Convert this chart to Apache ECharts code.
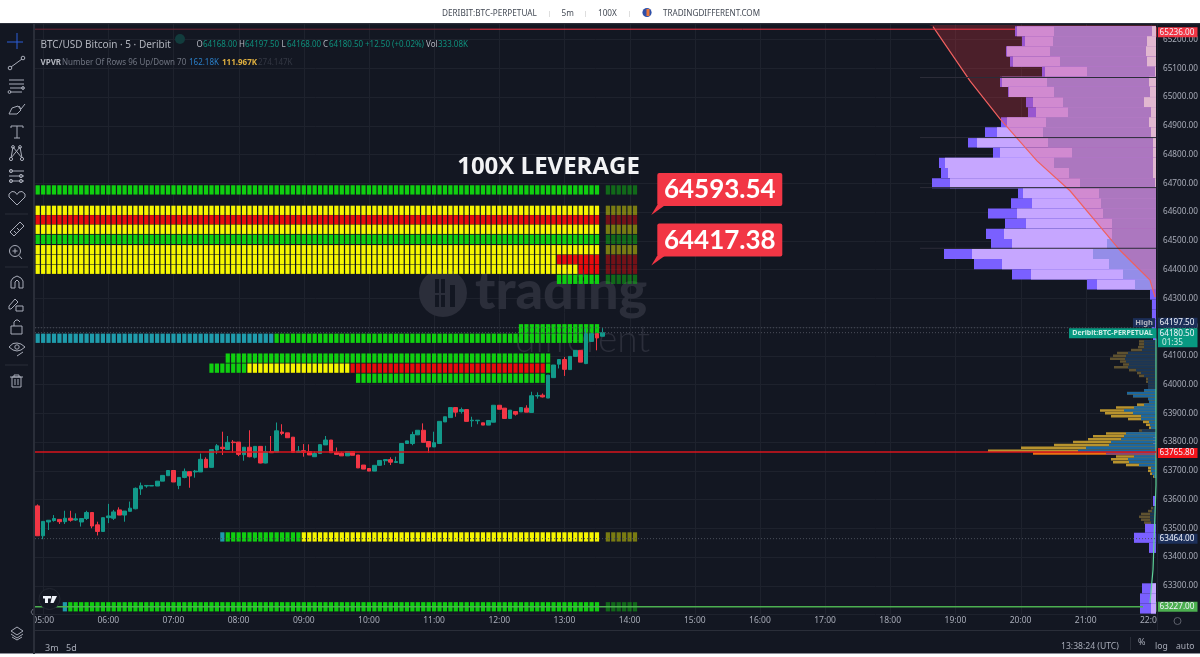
<!DOCTYPE html>
<html><head><meta charset="utf-8">
<style>html,body{margin:0;padding:0;background:#131722}#c{width:1200px;height:657px}</style>
<script src="https://cdn.jsdelivr.net/npm/echarts@6/dist/echarts.min.js"></script>
</head><body><div id="c"></div>
<script>
// ---------- DATA ----------
const firstHour = 4, firstMinute = 55, barCount = 207;
const candles = [ // open, close, low, high
[63578,63474,63474,63583],[63474,63524,63462,63524],[63522,63528,63494,63528],[63527,63534,63523,63546],[63531,63523,63515,63531],
[63523,63535,63515,63561],[63535,63528,63523,63561],[63529,63533,63526,63552],[63522,63534,63506,63534],[63534,63555,63529,63561],
[63555,63508,63500,63555],[63512,63489,63475,63523],[63489,63537,63489,63537],[63537,63543,63518,63585],[63535,63557,63529,63564],
[63564,63546,63546,63573],[63546,63560,63523,63560],[63559,63570,63559,63593],[63568,63639,63566,63642],[63637,63648,63616,63659],
[63647,63649,63641,63649],[63647,63649,63647,63649],[63647,63664,63647,63664],[63664,63684,63664,63684],[63683,63701,63683,63701],
[63701,63661,63661,63701],[63649,63677,63636,63677],[63677,63698,63674,63708],[63697,63682,63641,63697],[63696,63699,63676,63703],
[63696,63740,63696,63760],[63740,63711,63711,63747],[63712,63774,63712,63774],[63772,63787,63758,63793],[63782,63777,63755,63836],
[63774,63799,63774,63821],[63800,63798,63763,63807],[63800,63757,63751,63800],[63756,63782,63735,63782],[63782,63749,63747,63841],
[63747,63785,63743,63785],[63785,63727,63726,63785],[63727,63766,63726,63787],[63767,63763,63763,63821],[63765,63839,63765,63868],
[63835,63830,63824,63862],[63832,63815,63815,63832],[63817,63764,63764,63817],[63764,63769,63763,63786],[63770,63764,63749,63793],
[63767,63755,63755,63792],[63749,63760,63749,63767],[63760,63791,63760,63791],[63790,63807,63790,63821],[63807,63763,63763,63807],
[63764,63757,63757,63781],[63761,63752,63752,63766],[63752,63767,63752,63767],[63767,63754,63754,63767],[63755,63710,63710,63755],
[63720,63706,63706,63720],[63708,63699,63699,63708],[63699,63719,63699,63719],[63719,63736,63719,63736],[63735,63739,63720,63739],
[63739,63730,63720,63747],[63729,63732,63729,63749],[63726,63795,63726,63795],[63795,63804,63795,63804],[63795,63826,63789,63836],
[63825,63841,63825,63841],[63841,63799,63799,63865],[63802,63783,63763,63802],[63783,63798,63783,63836],[63795,63872,63795,63872],
[63870,63888,63870,63888],[63885,63920,63885,63920],[63920,63904,63888,63920],[63906,63913,63899,63920],[63913,63872,63872,63913],
[63874,63876,63853,63888],[63874,63876,63862,63876],[63867,63859,63859,63867],[63859,63875,63859,63875],[63869,63928,63869,63928],
[63928,63914,63914,63928],[63918,63882,63882,63918],[63882,63911,63882,63911],[63906,63897,63892,63906],[63905,63920,63905,63920],
[63918,63904,63904,63928],[63903,63961,63903,63975],[63960,63962,63951,63973],[63963,63957,63955,63969],[63953,64033,63953,64033],
[64024,64068,64024,64068],[64071,64087,64056,64087],[64087,64053,64030,64096],[64052,64098,64052,64098],[64098,64119,64098,64119],
[64119,64078,64078,64119],[64073,64177,64071,64194],[64150,64177,64150,64177],[64177,64162,64119,64177],[64168,64180.5,64168,64197.5]];

// Heat rows: price, first bar, last bar, colour key, faded
const heatRows = [
[64677,0,103,'g',0],[64677,105,110,'g',1],
[64606,0,103,'y',0],[64606,105,110,'y',1],
[64573,0,103,'r',0],[64573,105,110,'r',1],
[64540,0,103,'y',0],[64540,105,110,'y',1],
[64505,0,103,'g',0],[64505,105,110,'g',1],
[64469,0,103,'y',0],[64469,105,110,'y',1],
[64435,0,95,'y',0],[64435,96,103,'r',0],[64435,105,110,'r',1],
[64401,0,99,'y',0],[64401,100,103,'r',0],[64401,105,110,'r',1],
[64366,96,103,'g',0],[64366,105,110,'g',1],
[64194,89,103,'g',0],
[64161,0,43,'t',0],[64161,44,101,'g',0],
[64092,35,94,'g',0],
[64057,32,38,'g',0],[64057,39,57,'y',0],[64057,58,93,'r',0],[64057,94,94,'g',0],
[64022,59,93,'g',0],
[63470,34,34,'t',0],[63470,35,48,'g',0],[63470,49,103,'y',0],[63470,105,110,'y',1],
[63227,5,5,'t',0],[63227,6,103,'g',0],[63227,105,110,'g',1]];

// Big profile rows: price, outer, lavender, inner, pale widths
const vpPrices = [65229,65194,65159,65123,65088,65053,65018,64982,64947,64912,64877,64842,64806,64771,64736,64700,64665,64630,64595,64560,64524,64489,64454,64419,64383,64348,64313,64278,64243,64207,64172,63805,63595,63502,63467,63432,63291,63256,63221];
const vpOuter = [141,134,150,146,114,156,148,130,128,155,171,188,163,217,215,224,138,145,168,151,170,165,212,182,144,69,6,4,4,4,3,3,3,11,22,7,14,16,16];
const vpLav   = [139,131,149,143,111,154,147,123,120,149,159,179,156,211,208,206,133,124,139,130,152,144,184,154,125,59,0,0,0,0,0,0,0,0,0,0,5,5,5];
const vpInner = [102,103,106,96,69,109,102,93,88,110,113,108,84,102,87,76,57,55,53,44,44,49,63,47,33,21,0,0,0,0,0,0,0,0,0,0,0,0,0];
const vpPale  = [4,9,10,9,1,7,6,12,5,7,5,3,3,3,3,1,0,0,0,0,0,0,0,0,0,0,0,0,0,0,0,0,0,0,0,0,0,0,0];

// Fine profile rows: price, total, up part, tone (0 bright, 1 faded, 2 point of control)
const finePrices = [64150,64140,64130,64120,64110,64100,64090,64080,64070,64060,64050,64040,64030,64020,64010,64000,63990,63980,63970,63960,63950,63940,63930,63920,63910,63900,63890,63880,63870,63860,63850,63840,63830,63820,63810,63800,63790,63780,63770,63760,63750,63740,63730,63720,63710,63700,63690,63680,63570,63560,63550,63540,63530,63520];
const fineTotal  = [17,17,18,25,39,43,46,36,33,42,27,19,17,10,10,8,8,12,29,23,8,7,19,40,56,51,45,28,13,10,7,17,50,63,68,83,102,135,168,123,40,45,43,30,8,8,6,3,5,8,15,17,15,12];
const fineUp     = [12,12,12,14,28,30,31,30,27,28,20,15,12,8,8,8,8,12,29,23,8,7,12,22,32,23,15,15,7,6,5,14,30,32,35,45,47,70,78,50,22,28,27,17,5,5,4,2,3,4,6,6,6,5];
const fineTone   = [1,1,1,1,1,1,1,1,1,1,1,1,1,1,1,1,1,0,0,0,0,0,0,0,0,0,0,0,0,0,0,1,0,0,0,0,0,0,0,2,0,0,0,0,0,0,0,0,1,1,1,1,1,1];

// Trend line with its filled region: profile-width, price
const trendWidth = [223,186,156,119,86,36,6,1];
const trendPrice = [65245,65056,64924,64778,64674,64467,64363,64304];
const riseWidth = [0,0,3,6];
const risePrice = [64160,63650,63356,63240];

// Level lines: price, from-width, to-width, colour, line width, dotted
const levels = [
[65236,1121,686,'#6d2534',1,0],[65236,686,141,'#f23645',1,0],
[63765.8,1121,0,'#d8141c',1.5,0],[63227,1121,13,'#4caf50',1.5,0],
[64197.5,1121,0,'#4a4e5a',1,1],[64180.5,1121,0,'#4a4e5a',1,1],[63464,1121,0,'#4a4e5a',1,1],
[65068,236,0,'#2b2c38',1,0],[64859,236,0,'#2b2c38',1,0],[64685,236,0,'#2b2c38',1,0],[64474,236,0,'#2b2c38',1,0]];

// Callouts anchored at bar, price
const callouts = [[113,64593.54,'64593.54'],[113,64417.38,'64417.38']];

// Price tags: price, text, background, shift
const tags = [
[65236,'65236.00','#f23645',3],[64197.5,'64197.50','#1c2f59',-5],
[63765.8,'63765.80','#f5151b',1],[63464,'63464.00','#1c2f59',0],[63227,'63227.00','#4caf50',0]];

const heatColors = {g:'#10cf10',y:'#f6f600',r:'#e80c0c',t:'#1f9bab'};

// ---------- derived ----------
const categories = [];
for (let i = 0, m = firstHour*60+firstMinute; i < barCount; i++, m += 5) {
  categories.push(String(Math.floor(m/60)).padStart(2,'0')+':'+String(m%60).padStart(2,'0'));
}
const hourBars = categories.map((c,i)=>c.endsWith(':00')?i:-1).filter(i=>i>=0);
const cells = [];
heatRows.forEach(r=>{for(let i=r[1];i<=r[2];i++)cells.push([i,r[0],r[3],r[4]]);});
const vpRects = [];
vpPrices.forEach((p,k)=>{
  vpRects.push([p,vpOuter[k],'#7a60ff']);
  if(vpLav[k]) vpRects.push([p,vpLav[k],'#c6a6ff']);
  if(vpInner[k]) vpRects.push([p,vpInner[k],'#948de8']);
  if(vpPale[k]) vpRects.push([p,vpPale[k],'#dbe3ff']);
});
const fineRects = [];
finePrices.forEach((p,k)=>{
  const t=fineTone[k];
  fineRects.push([p,fineTotal[k],t===1?'#5f5230':t===2?'#ee7212':'#b8932e']);
  fineRects.push([p,fineUp[k],t===1?'#1b3656':t===2?'#7f4878':'#1c679f']);
});

// ---------- chart ----------
const chart = echarts.init(document.getElementById('c'),null,{renderer:'canvas'});
const FONT='"Noto Sans"';
const PMIN=63200, PMAX=65300;
const gridTop=10.8, gridH=603.75;

function T(text,x,y,size,fill,extra){
  return Object.assign({type:'text',z:120,x,y,style:Object.assign({text,font:size+'px '+FONT,fill,textVerticalAlign:'middle'},extra||{})});
}
const IC='#a8acb8';
function PL(pts,c){return {type:'polyline',z:120,shape:{points:pts},style:{stroke:c||IC,fill:null,lineWidth:1}};}
function CI(x,y,r,c){return {type:'circle',z:120,shape:{cx:x,cy:y,r},style:{stroke:c||IC,fill:null,lineWidth:1}};}
function RE(x,y,w,h,fill,z,r){return {type:'rect',z:z||110,shape:{x,y,width:w,height:h,r:r||0},style:{fill}};}

const icons=[
 PL([[7,42],[23,42]],'#2c5fd8'),PL([[17,33],[17,49]],'#2c5fd8'),
 PL([[11,67],[22,59]]),CI(10,68,1.8),CI(23,58,1.8),
 PL([[9,80],[24,80]]),PL([[9,84],[24,84]]),PL([[10,88],[24,88]]),PL([[10,92],[22,92]]),CI(23,88,1.4),CI(9.5,92,1.4),
 PL([[9,114],[12,108],[18,106],[21,110],[17,114],[9,114]]),PL([[19,106],[21,109],[25,104]]),
 PL([[11,126],[23,126]]),PL([[17,126],[17,138]]),PL([[14,138],[20,138]]),PL([[11,126],[11,128]]),PL([[23,126],[23,128]]),
 PL([[11,158],[13,147],[22,158],[20,147],[11,158]]),CI(11,159,1.6),CI(22,159,1.6),CI(13,147,1.4),CI(20,147,1.4),
 PL([[9,171],[24,171]]),PL([[9,176],[24,176]]),PL([[9,181],[24,181]]),CI(11,171,1.6),CI(21,176,1.6),CI(11,181,1.6),CI(21,181,1.6),
 PL([[17,205],[9,197],[9,194],[12,191.5],[15,192],[17,194.5],[19,192],[22,191.5],[25,194],[25,197],[17,205]]),
 PL([[5,214],[28,214]],'#2a2e39'),PL([[5,267],[28,267]],'#2a2e39'),PL([[5,365],[28,365]],'#2a2e39'),
 PL([[10,232],[20,222],[24,226],[14,236],[10,232]]),PL([[14,231],[16,233]]),PL([[17,228],[19,230]]),
 CI(15,251,5.5),PL([[19,255.5],[22,259]]),PL([[12.5,251],[17.5,251]]),PL([[15,248.5],[15,253.5]]),
 PL([[11,288],[11,281],[13,278],[17,276],[21,278],[23,281],[23,288],[19,288],[19,282],[17,280],[15,282],[15,288],[11,288]]),
 PL([[9,306],[15,299],[18,302],[11,309],[9,309],[9,306]]),{type:'rect',z:120,shape:{x:16,y:306,width:7,height:5},style:{stroke:IC,fill:null}},
 {type:'rect',z:120,shape:{x:11,y:326,width:11,height:8},style:{stroke:IC,fill:null}},PL([[14,326],[14,322],[16,320],[18,320],[20,322]]),
 PL([[9,347],[13,343.5],[17,343],[21,344],[25,347],[21,350],[17,351],[13,350],[9,347]]),CI(17,347,2.2),PL([[17,356],[23,352]]),
 {type:'rect',z:120,shape:{x:12,y:377,width:9,height:10},style:{stroke:IC,fill:null}},PL([[10,377],[23,377]]),PL([[14,377],[14,375],[19,375],[19,377]]),PL([[15,379],[15,385]]),PL([[18,379],[18,385]]),
 PL([[17,627],[23,631],[17,635],[11,631],[17,627]]),PL([[11,634],[17,638],[23,634]]),PL([[12,637],[17,640],[22,637]])
];

const graphic=[
 RE(0,0,1200,23,'#ffffff',110),RE(0,23,1200,1.2,'#2b2f3a',110),RE(0,654,1200,3,'#ffffff',110),RE(0,653,1200,1,'#8c8f98',111),
 RE(0,24,33,630,'#131722',110),RE(33,24,2,630,'#2a2e39',111),
 RE(35,630,1165,1,'#2a2e39',111),
 RE(1157,612,43,18,'#131722',110),
 RE(1157,24,1,606,'#1f2330',111),
 {type:'circle',z:1,shape:{cx:443,cy:293,r:24},style:{fill:'#2b2e3a'}},
 RE(435,279,4,14,'#131722',1),RE(441,279,4,14,'#131722',1),RE(435,295,4,12,'#131722',1),RE(441,295,4,12,'#131722',1),RE(450,285,5,22,'#131722',1),
 {type:'text',z:1,x:475,y:292,style:{text:'trading',font:'900 54px Lato',fill:'#2b2e3a',textVerticalAlign:'middle'}},
 {type:'text',z:1,x:515,y:340,style:{text:'different',font:'300 37px Lato',fill:'#2b2e3a',textVerticalAlign:'middle'}},
 T('DERIBIT:BTC-PERPETUAL',442,14,8.2,'#444a55'),T('5m',561.5,14,8.2,'#444a55'),T('100X',598,14,8.2,'#444a55'),T('TRADINGDIFFERENT.COM',663,14,8.1,'#444a55'),
 RE(549,11,0.7,6,'#d0d0d0',120),RE(585,11,0.7,6,'#d0d0d0',120),RE(629,11,0.7,6,'#d0d0d0',120),
 {type:'circle',z:120,shape:{cx:647,cy:12.5,r:4.6},style:{fill:'#2e4fa8'}},RE(646.5,9,3,7,'#e8763a',121),
 T('BTC/USD Bitcoin · 5 · Deribit',40.5,45,10,'#b2b5be'),
 {type:'circle',z:120,shape:{cx:180,cy:39,r:5},style:{fill:'#123c3d'}},
 T('O',196.5,45,8,'#b2b5be'),T('64168.00',203,45,8,'#0f8f7c'),
 T('H',239,45,8,'#b2b5be'),T('64197.50',245,45,8,'#0f8f7c'),
 T('L',281.5,45,8,'#b2b5be'),T('64168.00',287,45,8,'#0f8f7c'),
 T('C',323,45,8,'#b2b5be'),T('64180.50',329,45,8,'#0f8f7c'),
 T('+12.50 (+0.02%)',365,45,8,'#0f8f7c'),
 T('Vol',426,45,8,'#b2b5be'),T('333.08K',438,45,8,'#0f8f7c'),
 T('VPVR',40.5,63,8,'#b2b5be',{font:'bold 8px '+FONT}),T('Number Of Rows 96 Up/Down 70',62,63,8,'#6f7480'),
 T('162.18K',189,63,8,'#2a7fc8'),T('111.967K',222,63,8,'#e0b040',{font:'bold 8px '+FONT}),T('274.147K',258,63,8,'#343844'),
 {type:'text',z:60,x:548.5,y:167,style:{text:'100X LEVERAGE',font:'700 24px "Open Sans"',fill:'#f2f3f5',textAlign:'center',textVerticalAlign:'middle'}},
 T('3m',45,648,9,'#a8acb8'),T('5d',66,648,9,'#a8acb8'),
 T('13:38:24 (UTC)',1061,647,8.6,'#a8acb8'),RE(1130,637,1,13,'#2a2e39',120),T('%',1138,642,9,'#a8acb8'),T('log',1155,647,8.6,'#a8acb8'),T('auto',1176,647,8.6,'#a8acb8'),
 CI(1177.5,621,3.5,'#5d606b'),
 {type:'circle',z:120,shape:{cx:49.5,cy:599,r:10.5},style:{fill:'#131722',stroke:'#242833',lineWidth:1}},
 RE(43,596,8,2.5,'#f0f3fa',121),RE(45,596,3,7,'#f0f3fa',121),
 {type:'polygon',z:121,shape:{points:[[52,596],[57,596],[53.5,603],[50.5,603]]},style:{fill:'#f0f3fa'}},
 PL([[33,609],[31,612],[33,615]],'#6a6e7a')
].concat(icons);

function line(pts,stroke,w,dash){return {type:'polyline',shape:{points:pts},style:{stroke,lineWidth:w,fill:null,lineDash:dash||null}};}

const series=[
 {type:'custom',name:'hours',xAxisIndex:0,yAxisIndex:0,z:0,silent:true,data:hourBars.map(i=>[i,PMIN]),encode:{x:0,y:1},
  renderItem(p,api){const a=api.coord([api.value(0),PMIN]),b=api.coord([api.value(0),PMAX]);
   return {type:'line',shape:{x1:Math.round(a[0])+.5,y1:a[1],x2:Math.round(a[0])+.5,y2:b[1]},style:{stroke:'#1e222d',lineWidth:1}};}},
 {type:'custom',name:'heat',xAxisIndex:0,yAxisIndex:0,z:3,silent:true,data:cells.map(c=>[c[0],c[1]]),encode:{x:0,y:1},
  renderItem(p,api){const c=cells[p.dataIndex];const a=api.coord([c[0],c[1]+17]),b=api.coord([c[0],c[1]-17]);
   return {type:'rect',shape:{x:a[0]-2.1,y:a[1]+.25,width:4.2,height:b[1]-a[1]-.5},style:{fill:heatColors[c[2]],opacity:c[3]?0.45:1}};}},
 {type:'candlestick',name:'BTC/USD',xAxisIndex:0,yAxisIndex:0,z:4,silent:true,barWidth:4.2,data:candles,
  itemStyle:{color:'#12998a',color0:'#f23645',borderColor:'#12998a',borderColor0:'#f23645',borderWidth:1}},
 {type:'custom',name:'vp',xAxisIndex:1,yAxisIndex:1,z:3,silent:true,data:vpRects.map(r=>[r[1],r[0]]),encode:{x:0,y:1},
  renderItem(p,api){const r=vpRects[p.dataIndex];const a=api.coord([r[1],r[0]+17.62]),b=api.coord([0,r[0]-17.62]);
   return {type:'rect',shape:{x:a[0],y:a[1],width:b[0]-a[0],height:b[1]-a[1]},style:{fill:r[2]}};}},
 {type:'custom',name:'fine',xAxisIndex:1,yAxisIndex:1,z:3,silent:true,data:fineRects.map(r=>[r[1],r[0]]),encode:{x:0,y:1},
  renderItem(p,api){const r=fineRects[p.dataIndex];const a=api.coord([r[1],r[0]+4.4]),b=api.coord([0,r[0]-4.4]);
   return {type:'rect',shape:{x:a[0],y:a[1],width:b[0]-a[0],height:b[1]-a[1]},style:{fill:r[2]}};}},
 {type:'custom',name:'trendFill',xAxisIndex:1,yAxisIndex:1,z:5,silent:true,data:[[0,65245]],encode:{x:0,y:1},
  renderItem(p,api){const pts=trendWidth.map((w,i)=>api.coord([w,trendPrice[i]]));
   const poly=pts.concat([api.coord([0,trendPrice[trendPrice.length-1]]),api.coord([0,65251])]);
   poly.unshift(api.coord([trendWidth[0]+4,65251]));
   return {type:'group',children:[
    {type:'polygon',shape:{points:poly},style:{fill:'rgba(242,54,69,0.25)'}},
    line(pts,'#f0605f',1.2)]};}},
 {type:'custom',name:'rise',xAxisIndex:1,yAxisIndex:1,z:6,silent:true,data:[[0,64160]],encode:{x:0,y:1},
  renderItem(p,api){return line(riseWidth.map((w,i)=>api.coord([w,risePrice[i]])),'#5fd49a',1.2);}},
 {type:'custom',name:'levels',xAxisIndex:1,yAxisIndex:1,z:6,silent:true,data:levels.map(l=>[l[1],l[0]]),encode:{x:0,y:1},
  renderItem(p,api){const l=levels[p.dataIndex];const a=api.coord([l[1],l[0]]),b=api.coord([l[2],l[0]]);
   return line([a,b],l[3],l[4],l[5]?[1,2]:null);}},
 {type:'custom',name:'tags',xAxisIndex:1,yAxisIndex:1,z:20,silent:true,data:tags.map(t=>[0,t[0]]),encode:{x:0,y:1},
  renderItem(p,api){const t=tags[p.dataIndex];const a=api.coord([0,t[0]]);const y=a[1]+t[3];
   return {type:'group',children:[
    {type:'rect',shape:{x:1156.5,y:y-5,width:41,height:10},style:{fill:t[2]}},
    {type:'text',style:{x:1177,y:y,text:t[1],font:'8.2px '+FONT,fill:'#f0f3fa',textAlign:'center',textVerticalAlign:'middle'}}]};}},
 {type:'custom',name:'last',xAxisIndex:1,yAxisIndex:1,z:21,silent:true,data:[[0,64180.5]],encode:{x:0,y:1},
  renderItem(p,api){const a=api.coord([0,64180.5]);const y=a[1];
   return {type:'group',children:[
    {type:'rect',shape:{x:1133,y:y-14.5,width:22,height:9},style:{fill:'#1c2f59'}},
    {type:'text',style:{x:1144,y:y-10,text:'High',font:'bold 7.5px '+FONT,fill:'#b2b5be',textAlign:'center',textVerticalAlign:'middle'}},
    {type:'rect',shape:{x:1069,y:y-4.5,width:87,height:10},style:{fill:'#089981'}},
    {type:'text',style:{x:1112.5,y:y+.5,text:'Deribit:BTC-PERPETUAL',font:'bold 7px '+FONT,fill:'#cfeee6',textAlign:'center',textVerticalAlign:'middle'}},
    {type:'rect',shape:{x:1156.5,y:y-4.5,width:41,height:19},style:{fill:'#089981'}},
    {type:'text',style:{x:1177,y:y+.8,text:'64180.50',font:'8.2px '+FONT,fill:'#f0f3fa',textAlign:'center',textVerticalAlign:'middle'}},
    {type:'text',style:{x:1162,y:y+10,text:'01:35',font:'8.2px '+FONT,fill:'#cfeee6',textVerticalAlign:'middle'}}]};}},
 {type:'custom',name:'callouts',xAxisIndex:0,yAxisIndex:0,z:30,silent:true,data:callouts.map(c=>[c[0],c[1]]),encode:{x:0,y:1},
  renderItem(p,api){const c=callouts[p.dataIndex];const a=api.coord([c[0],c[1]]);const x=a[0],y=a[1];
   return {type:'group',children:[
    {type:'polygon',shape:{points:[[x,y+1],[x+6,y-9],[x+14,y-9]]},style:{fill:'#f23645'}},
    {type:'rect',shape:{x:x+6,y:y-41,width:125,height:33,r:2},style:{fill:'#f23645'}},
    {type:'text',style:{x:x+68.5,y:y-24,text:c[2],font:'bold 26px Lato',fill:'#ffffff',textAlign:'center',textVerticalAlign:'middle'}}]};}}
];

chart.setOption({
 animation:false,backgroundColor:'#131722',
 grid:[{left:35,top:gridTop,width:1124,height:gridH,outerBoundsMode:'none'},{left:35,top:gridTop,width:1121,height:gridH,outerBoundsMode:'none'}],
 xAxis:[
  {type:'category',gridIndex:0,data:categories,boundaryGap:true,
   axisLine:{show:false},axisTick:{show:false},splitLine:{show:false},
   axisLabel:{interval:(i,v)=>v.endsWith(':00'),color:'#a8acb8',fontFamily:FONT,fontSize:8.5,margin:2,hideOverlap:false}},
  {type:'value',gridIndex:1,min:0,max:1121,inverse:true,show:false}],
 yAxis:[
  {type:'value',gridIndex:0,min:PMIN,max:PMAX,show:false},
  {type:'value',gridIndex:1,min:PMIN,max:PMAX,interval:100,position:'right',scale:true,
   axisLine:{show:false},axisTick:{show:false},
   splitLine:{show:true,lineStyle:{color:'#1e222d',width:1}},
   axisLabel:{margin:7,color:'#a8acb8',fontFamily:FONT,fontSize:8.2,
    formatter:v=>(v===PMIN||v===PMAX)?'':v.toFixed(2)}}],
 graphic,series
});
</script></body></html>
